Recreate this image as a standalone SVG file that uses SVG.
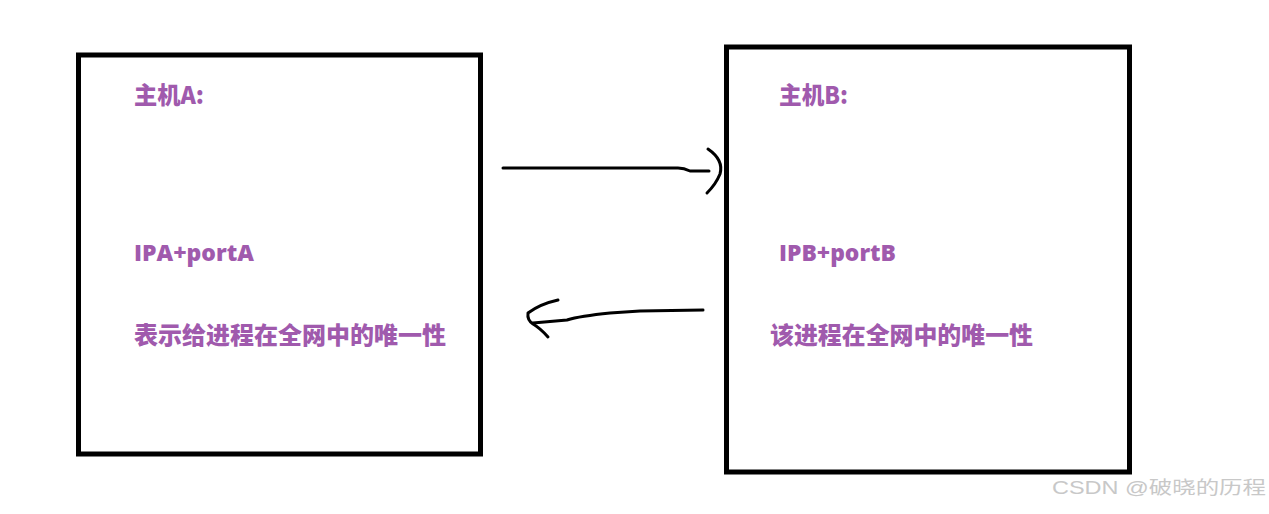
<svg xmlns="http://www.w3.org/2000/svg" width="1269" height="514" viewBox="0 0 1269 514">
<style>
.box{fill:none;stroke:#000;stroke-width:5}
.t{fill:#a05aad;font-family:"Open Sans","Noto Sans CJK SC",sans-serif;font-weight:800;font-size:22px}
.c{fill:#a05aad;font-family:"Noto Sans CJK SC",sans-serif;font-weight:900;font-size:24px}
.ink{fill:none;stroke:#000;stroke-width:3;stroke-linecap:round;stroke-linejoin:round}
.wm{fill:#c8c8c8;font-family:"Liberation Sans","Noto Sans CJK SC",sans-serif;font-size:18px}
</style>
<rect width="1269" height="514" fill="#fff"/>
<g id="hostA">
<rect class="box" x="78.5" y="55" width="402" height="399"/>
<text class="c" x="134" y="104" textLength="70" lengthAdjust="spacingAndGlyphs">主机A:</text>
<text class="t" x="134" y="261" textLength="120" lengthAdjust="spacingAndGlyphs">IPA+portA</text>
<text class="c" x="134" y="344" textLength="312" lengthAdjust="spacingAndGlyphs">表示给进程在全网中的唯一性</text>
</g>
<g id="hostB">
<rect class="box" x="726.5" y="47" width="403" height="425"/>
<text class="c" x="779" y="104" textLength="69" lengthAdjust="spacingAndGlyphs">主机B:</text>
<text class="t" x="779" y="261" textLength="117" lengthAdjust="spacingAndGlyphs">IPB+portB</text>
<text class="c" x="770" y="344" textLength="263" lengthAdjust="spacingAndGlyphs">该进程在全网中的唯一性</text>
</g>
<g id="connectors">
<path class="ink" d="M503 168 L678 168 Q684 168 690 171 L709 171"/>
<path class="ink" d="M708 149 Q724 160 720 174 Q716 184 707 193"/>
<path class="ink" d="M703 310 L640 311 L610 313 Q580 316 567 320 L533 323"/>
<path class="ink" d="M558 300 Q540 304 528 313 Q527 320 533 324 Q540 328 548 337"/>
</g>
<text class="wm" x="1052" y="494" textLength="214" lengthAdjust="spacingAndGlyphs">CSDN @破晓的历程</text>
</svg>
